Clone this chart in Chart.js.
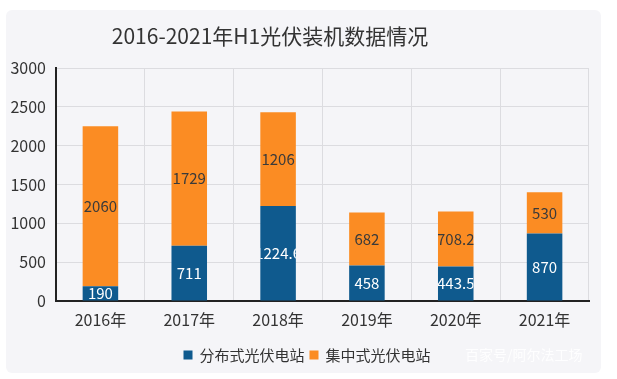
<!DOCTYPE html>
<html>
<head>
<meta charset="utf-8">
<script src="https://cdn.jsdelivr.net/npm/chart.js@4/dist/chart.umd.min.js"></script>
<style>
html,body{margin:0;padding:0;background:#ffffff;}
#wrap{width:617px;height:379px;position:relative;}
</style>
</head>
<body>
<div id="wrap"><canvas id="c" width="617" height="379"></canvas></div>
<script>
const categories = ["2016年", "2017年", "2018年", "2019年", "2020年", "2021年"];
const distributed = [190, 711, 1224.6, 458, 443.5, 870];
const centralized = [2060, 1729, 1206, 682, 708.2, 530];
const seriesNames = ["分布式光伏电站", "集中式光伏电站"];
const titleText = "2016-2021年H1光伏装机数据情况";
const watermarkText = "百家号/阿尔法工场";
const yTicks = [0, 500, 1000, 1500, 2000, 2500, 3000];

const FONT = "'Noto Sans CJK SC', 'Noto Sans', sans-serif";
const BLUE = "#0f5a8e";
const ORANGE = "#fb8c23";

const decorPlugin = {
  id: 'decor',
  beforeDraw(chart) {
    const ctx = chart.ctx;
    ctx.save();
    ctx.fillStyle = '#f5f5f8';
    ctx.beginPath();
    if (ctx.roundRect) ctx.roundRect(6, 10, 595, 363, 6); else ctx.rect(6, 10, 595, 363);
    ctx.fill();
    ctx.restore();
  },
  afterDraw(chart) {
    const ctx = chart.ctx;
    ctx.save();
    // title
    ctx.fillStyle = '#333333';
    ctx.font = "21px " + FONT;
    ctx.textAlign = 'center';
    ctx.textBaseline = 'middle';
    ctx.fillText(titleText, 270, 36);
    // legend
    ctx.font = "15px " + FONT;
    ctx.textAlign = 'left';
    const colors = chart.data.datasets.map(d => d.backgroundColor);
    const labels = chart.data.datasets.map(d => d.label);
    const box = 9;
    const gap = 7;
    const itemGap = 5;
    let total = 0;
    const widths = labels.map(l => ctx.measureText(l).width);
    widths.forEach((w, i) => { total += box + gap + w + (i ? itemGap : 0); });
    let x = 307 - total / 2;
    const y = 355;
    labels.forEach((l, i) => {
      ctx.fillStyle = colors[i];
      ctx.fillRect(x, y - box / 2, box, box);
      x += box + gap;
      ctx.fillStyle = '#333333';
      ctx.fillText(l, x, y);
      x += widths[i] + itemGap;
    });
    // watermark
    ctx.fillStyle = 'rgba(255,255,255,0.9)';
    ctx.font = "14px " + FONT;
    ctx.fillText(watermarkText, 465, 355);
    ctx.restore();
  },
  afterDatasetsDraw(chart) {
    const ctx = chart.ctx;
    ctx.save();
    ctx.font = "15px " + FONT;
    ctx.textAlign = 'center';
    ctx.textBaseline = 'middle';
    chart.data.datasets.forEach((ds, di) => {
      const meta = chart.getDatasetMeta(di);
      meta.data.forEach((bar, i) => {
        const p = bar.getProps(['x', 'y', 'base', 'width'], true);
        const top = Math.min(p.y, p.base), bot = Math.max(p.y, p.base);
        ctx.save();
        ctx.beginPath();
        ctx.rect(p.x - p.width / 2, top, p.width, bot - top);
        ctx.clip();
        ctx.fillStyle = di === 0 ? '#ffffff' : '#3a3a3a';
        ctx.fillText(String(ds.data[i]), p.x, (top + bot) / 2);
        ctx.restore();
      });
    });
    ctx.restore();
  }
};

new Chart(document.getElementById('c'), {
  type: 'bar',
  data: {
    labels: categories,
    datasets: [
      { label: seriesNames[0], data: distributed, backgroundColor: BLUE, borderWidth: 0,
        categoryPercentage: 0.8, barPercentage: 0.5 },
      { label: seriesNames[1], data: centralized, backgroundColor: ORANGE, borderWidth: 0,
        categoryPercentage: 0.8, barPercentage: 0.5 }
    ]
  },
  options: {
    responsive: false,
    animation: false,
    devicePixelRatio: 1,
    layout: { padding: { top: 68, left: 0, right: 28, bottom: 48 } },
    plugins: { legend: { display: false }, title: { display: false }, tooltip: { enabled: false } },
    scales: {
      x: {
        stacked: true,
        grid: { color: '#dcdce0', lineWidth: 1, drawTicks: false, offset: true },
        border: { color: '#222222', width: 2 },
        ticks: { color: '#333333', font: { size: 16, family: FONT }, padding: 9 },
        afterFit(s) { s.height = 30; }
      },
      y: {
        stacked: true,
        min: 0, max: 3000,
        afterBuildTicks(s) { s.ticks = yTicks.map(v => ({ value: v })); },
        grid: { color: '#dcdce0', lineWidth: 1, drawTicks: false },
        border: { color: '#222222', width: 2 },
        ticks: { color: '#333333', font: { size: 16, family: FONT }, padding: 10,
                 callback: (v) => String(v) },
        afterFit(s) { s.width = 56; }
      }
    }
  },
  plugins: [decorPlugin]
});
</script>
</body>
</html>
